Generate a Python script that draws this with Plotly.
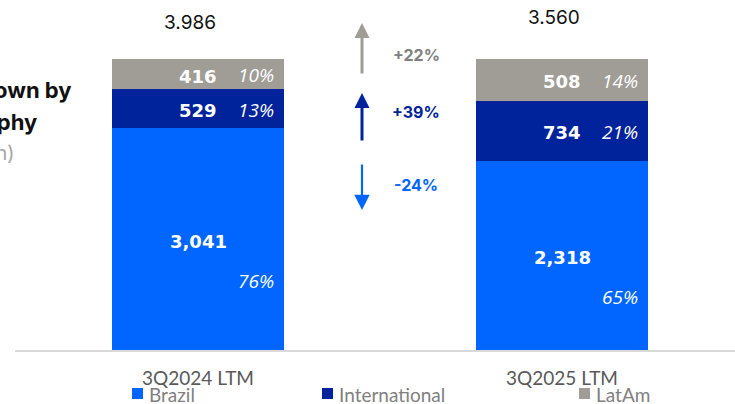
import plotly.graph_objects as go

# Revenue by geography (R$ million), LTM
categories = ["3Q2024 LTM", "3Q2025 LTM"]
series_names = ["Brazil", "International", "LatAm"]
brazil = [3041, 2318]
international = [529, 734]
latam = [416, 508]

colors = {"Brazil": "#0066FF", "International": "#00239C", "LatAm": "#A09C96"}
growth_text_colors = {"Brazil": "#0066FF", "International": "#00239C", "LatAm": "#808080"}

values = {"Brazil": brazil, "International": international, "LatAm": latam}
totals = [sum(v[j] for v in values.values()) for j in range(len(categories))]
shares = {k: [v[j] / totals[j] * 100 for j in range(len(categories))] for k, v in values.items()}

W, H = 735, 404
ML, MR, MT, MB = 15, 0, 0, 54
PW, PH = W - ML - MR, H - MT - MB
STEP = 364          # px between category centres
X0 = 198            # px of first category centre
TOP = 59            # px of the 100% line
YMAX = 100 * PH / (PH - TOP)
x_range = [(ML - X0) / STEP, (W - MR - X0) / STEP]
xpos = list(range(len(categories)))

def px_x(px):
    return (px - ML) / PW

def px_y(py):
    return (H - MB - py) / PH

fig = go.Figure()
for name in series_names:
    fig.add_trace(go.Bar(
        x=xpos, y=shares[name], name=name, width=172 / STEP,
        marker=dict(color=colors[name], line=dict(width=0)),
        showlegend=False, hoverinfo="skip",
    ))

ann = []
shapes = []

# segment labels: value (bold) and share (italic)
for j in range(len(categories)):
    base = 0
    for name in series_names:
        s = shares[name][j]
        mid = base + s / 2
        base += s
        v_txt = f"{values[name][j]:,}"
        p_txt = f"<i>{round(s)}%</i>"
        bottom = name == "Brazil"
        ann.append(dict(x=xpos[j], y=mid, xref="x", yref="y", text=f"<b>{v_txt}</b>",
                        showarrow=False, yshift=-2, xanchor="center", yanchor="middle",
                        font=dict(family="DejaVu Sans", size=18, color="white")))
        ann.append(dict(x=xpos[j], y=mid, xref="x", yref="y", text=p_txt,
                        showarrow=False, xshift=58, yshift=-42 if bottom else -1,
                        xanchor="center", yanchor="middle",
                        font=dict(family="Open Sans", size=19, color="white")))

# totals above bars
total_y = [112.4, 114.1]
for j, t in enumerate(totals):
    ann.append(dict(x=xpos[j], y=total_y[j], xref="x", yref="y", xshift=-8,
                    xanchor="center", yanchor="middle",
                    text=f"{t:,}".replace(",", "."), showarrow=False,
                    font=dict(family="Inter", size=19, color="#111111")))

# growth arrows between the bars
arrow_x = (362 - X0) / STEP
arrows = {
    "LatAm": (112.4, 94.5, 3, 1.0),
    "International": (88.3, 71.5, 3, 1.0),
    "Brazil": (48.1, 64.3, 2.2, 1.4),
}
label_y = {"LatAm": 101.4, "International": 81.8, "Brazil": 56.7}
for name in ["LatAm", "International", "Brazil"]:
    tip, tail, w, sz = arrows[name]
    ann.append(dict(x=arrow_x, y=tip, ax=arrow_x, ay=tail, xref="x", yref="y",
                    axref="x", ayref="y", text="", showarrow=True, arrowhead=2,
                    arrowwidth=w, arrowsize=sz, arrowcolor=colors[name], standoff=0))
    g = round((values[name][1] / values[name][0] - 1) * 100)
    ann.append(dict(x=arrow_x, y=label_y[name], xref="x", yref="y", xshift=54,
                    xanchor="center", yanchor="middle",
                    text=f"<b>{g:+d}%</b>", showarrow=False,
                    font=dict(family="Inter", size=16, color=growth_text_colors[name])))

# title block at the left edge
title_lines = [
    ("<b>Revenue breakdown by</b>", 74, 90, 22, "#111111"),
    ("<b>geography</b>", 39, 122, 22, "#111111"),
    ("(R$ million)", 17, 153, 20, "#A6A6A6"),
]
for txt, xr, yc, size, col in title_lines:
    ann.append(dict(x=px_x(xr), y=px_y(yc), xref="paper", yref="paper",
                    xanchor="right", yanchor="middle", text=txt, showarrow=False,
                    font=dict(family="Inter", size=size, color=col)))

# legend row
legend_sq = {"Brazil": 132, "International": 322, "LatAm": 579}
for name in series_names:
    x0 = legend_sq[name]
    shapes.append(dict(type="rect", xref="paper", yref="paper",
                       x0=px_x(x0), x1=px_x(x0 + 11), y0=px_y(399), y1=px_y(388),
                       fillcolor=colors[name], line=dict(width=0)))
    ann.append(dict(x=px_x(x0 + 15), y=px_y(394), xref="paper", yref="paper",
                    xanchor="left", yanchor="middle", text=name, showarrow=False,
                    font=dict(family="Lato", size=19, color="#808080")))

fig.update_layout(
    width=W, height=H, margin=dict(l=ML, r=MR, t=MT, b=MB),
    barmode="stack", paper_bgcolor="white", plot_bgcolor="white",
    annotations=ann, shapes=shapes,
    xaxis=dict(range=x_range, tickvals=xpos, ticktext=categories,
               showgrid=False, zeroline=False, showline=True,
               linecolor="#D9D9D9", linewidth=2,
               ticks="outside", ticklen=10, tickcolor="rgba(0,0,0,0)",
               tickfont=dict(family="Lato", size=19, color="#595959")),
    yaxis=dict(range=[0, YMAX], visible=False),
)

fig.write_html("out.html")
